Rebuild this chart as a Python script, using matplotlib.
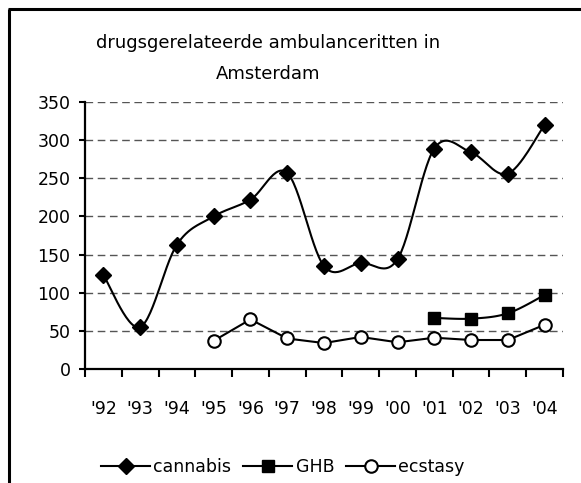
import numpy as np
import matplotlib
matplotlib.use("Agg")
import matplotlib.pyplot as plt
from matplotlib.lines import Line2D

years = ["'92", "'93", "'94", "'95", "'96", "'97", "'98", "'99", "'00", "'01", "'02", "'03", "'04"]
cannabis = [123, 55, 163, 200, 222, 257, 135, 139, 144, 289, 284, 256, 320]
ghb = [None, None, None, None, None, None, None, None, None, 67, 66, 73, 97]
ecstasy = [None, None, None, 37, 65, 40, 34, 42, 35, 41, 38, 38, 58]


def smooth(xs, ys, n=30):
    # Excel-like smoothed line (Catmull-Rom as cubic Bezier)
    xs = np.asarray(xs, float)
    ys = np.asarray(ys, float)
    px = np.concatenate([[xs[0]], xs, [xs[-1]]])
    py = np.concatenate([[ys[0]], ys, [ys[-1]]])
    outx, outy = [], []
    t = np.linspace(0, 1, n)
    for i in range(1, len(px) - 2):
        p0 = np.array([px[i], py[i]])
        p3 = np.array([px[i + 1], py[i + 1]])
        c1 = p0 + (p3 - np.array([px[i - 1], py[i - 1]])) / 6
        c2 = p3 - (np.array([px[i + 2], py[i + 2]]) - p0) / 6
        b = (np.outer((1 - t) ** 3, p0) + np.outer(3 * (1 - t) ** 2 * t, c1)
             + np.outer(3 * (1 - t) * t ** 2, c2) + np.outer(t ** 3, p3))
        outx.extend(b[:, 0])
        outy.extend(b[:, 1])
    return outx, outy


def valid(vals):
    idx = [i for i, v in enumerate(vals) if v is not None]
    return idx, [vals[i] for i in idx]


plt.rcParams['font.family'] = ['DejaVu Sans']
fig = plt.figure(figsize=(5.81, 4.83), dpi=100)
ax = fig.add_axes([85 / 581, 1 - 369 / 483, 478 / 581, 267 / 483])

lw = 1.5
ci, cv = valid(cannabis)
sx, sy = smooth(ci, cv)
ax.plot(sx, sy, color='black', lw=lw, zorder=3)
ax.plot(ci, cv, ls='none', marker='D', ms=8, color='black', zorder=4)

gi, gv = valid(ghb)
sx, sy = smooth(gi, gv)
ax.plot(sx, sy, color='black', lw=lw, zorder=3)
ax.plot(gi, gv, ls='none', marker='s', ms=8.5, color='black', zorder=4)

ei, ev = valid(ecstasy)
ax.plot(ei, ev, color='black', lw=lw, marker='o', ms=9, mfc='white',
        mec='black', mew=1.5, zorder=4)

ax.set_xlim(-0.5, len(years) - 0.5)
ax.set_ylim(0, 350)
ax.set_yticks(range(0, 351, 50))
for v in range(50, 351, 50):
    ax.axhline(v, color='#555555', lw=1, ls=(0, (5.5, 3.3)), zorder=1)

ax.set_xticks(np.arange(-0.5, len(years), 1))
ax.set_xticklabels([])
ax.set_xticks(range(len(years)), minor=True)
ax.set_xticklabels(years, minor=True)
ax.tick_params(axis='x', which='major', direction='out', length=5.5, width=1.5)
ax.tick_params(axis='x', which='minor', length=0, pad=22, labelsize=12.5)
ax.tick_params(axis='y', direction='out', length=4.5, width=1.5, labelsize=12.5, pad=6)

for s in ['top', 'right']:
    ax.spines[s].set_visible(False)
for s in ['left', 'bottom']:
    ax.spines[s].set_linewidth(1.6)

fig.text(268 / 581, 1 - 43 / 483, "drugsgerelateerde ambulanceritten in",
         ha='center', va='center', fontsize=13)
fig.text(268 / 581, 1 - 74 / 483, "Amsterdam", ha='center', va='center', fontsize=13)

handles = [
    Line2D([], [], color='black', lw=lw, marker='D', ms=8),
    Line2D([], [], color='black', lw=lw, marker='s', ms=8.5),
    Line2D([], [], color='black', lw=lw, marker='o', ms=9, mfc='white', mew=1.5),
]
fig.legend(handles, ['cannabis', 'GHB', 'ecstasy'], loc='center',
           bbox_to_anchor=(283 / 581, 1 - 467 / 483), ncol=3, frameon=False,
           fontsize=12.5, handlelength=2.8, handletextpad=0.2, columnspacing=0.7)

# outer frame (left and top edges)
fig.add_artist(Line2D([8.5 / 581, 8.5 / 581], [0, 1 - 8.5 / 483], color='black', lw=2.2,
                      transform=fig.transFigure, solid_capstyle='butt'))
fig.add_artist(Line2D([7.5 / 581, 1], [1 - 9 / 483, 1 - 9 / 483], color='black', lw=2.2,
                      transform=fig.transFigure, solid_capstyle='butt'))

fig.savefig('out.png', dpi=100)
